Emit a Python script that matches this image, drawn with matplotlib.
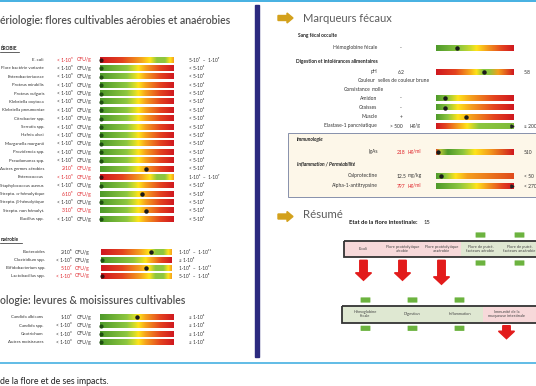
import numpy as np
import matplotlib
matplotlib.use("Agg")
import matplotlib.pyplot as plt
import matplotlib.patches as mpatches
from matplotlib.colors import LinearSegmentedColormap

plt.rcParams['font.family'] = ['Lato', 'DejaVu Sans']

# ---------------- donnees : bacteriologie aerobie ----------------
aero_names = ["E. coli", "Flore bactérie variante", "Enterobacteriaceae", "Proteus mirabilis",
              "Proteus vulgaris", "Klebsiella oxytoca", "Klebsiella pneumoniae", "Citrobacter spp.",
              "Serratia spp.", "Hafnia alvei", "Morganella morganii", "Providencia spp.",
              "Pseudomonas spp.", "Autres germes aérobies", "Enterococcus", "Staphylococcus aureus",
              "Strepto. α-hémolytique", "Strepto. β-hémolytique",
              "Strepto. non hémolyt.", "Bacillus spp."]
aero_values = ["< 1·10⁵"] * 13 + ["2·10⁵", "< 1·10⁵", "< 1·10⁵", "6·10⁵", "< 1·10⁵", "3·10⁵", "< 1·10⁵"]
aero_red = [1] + [0] * 12 + [1, 1, 0, 1, 0, 1, 0]
aero_pos = [0.0] * 13 + [0.62, 0.0, 0.0, 0.57, 0.0, 0.62, 0.0]
aero_kind = ["bi"] + ["std"] * 13 + ["bi"] + ["std"] * 5
aero_refs = ["5·10⁷  –  1·10⁹"] + ["< 5·10⁴"] * 13 + ["1·10⁶  –  1·10⁷"] + ["< 5·10⁴"] * 5

# ---------------- anaerobie ----------------
ana_names = ["Bacteroides", "Clostridium spp.", "Bifidobacterium spp.", "Lactobacillus spp."]
ana_values = ["2·10⁸", "< 1·10⁵", "5·10⁷", "< 1·10⁵"]
ana_red = [0, 0, 1, 1]
ana_pos = [0.70, 0.0, 0.63, 0.0]
ana_kind = ["bi", "std2", "bi", "bi"]
ana_refs = ["1·10⁹  –  1·10¹¹", "≤ 1·10⁵", "1·10⁸  –  1·10¹¹", "5·10⁶  –  1·10⁸"]

# ---------------- mycologie ----------------
myc_names = ["Candida albicans", "Candida spp.", "Geotrichum", "Autres moisissures"]
myc_values = ["1·10⁴", "< 1·10³", "< 1·10³", "< 1·10³"]
myc_pos = [0.5, 0.0, 0.0, 0.0]
myc_refs = ["≤ 1·10⁴", "≤ 1·10³", "≤ 1·10³", "≤ 1·10³"]

# ---------------- marqueurs fecaux ----------------
fec_names = ["Hémoglobine fécale", "pH", "Amidon", "Graisses", "Muscle", "Elastase-1 pancréatique"]
fec_values = ["-", "6.2", "-", "-", "+", "> 500"]
fec_units = ["", "", "", "", "", "µg/g"]
fec_pos = [0.27, 0.62, 0.12, 0.12, 0.38, 0.99]
fec_kind = ["hb", "ph", "low", "low", "low", "ela"]
fec_refs = ["", "5.8", "", "", "", "≥ 200"]

imm_names = ["IgAs", "Calprotectine", "Alpha-1-antitrypsine"]
imm_values = ["218", "12.5", "797"]
imm_units = ["µg/ml", "mg/kg", "µg/ml"]
imm_red = [1, 0, 1]
imm_pos = [0.02, 0.06, 0.99]
imm_kind = ["iga", "calp", "hb"]
imm_refs = ["510", "< 50", "< 270"]

# ---------------- resume ----------------
flore_score = 15
top_cells = ["E.coli", "Flore protéolytique\naérobie", "Flore protéolytique\nanaérobie",
             "Flore de putré.\nfacteurs aérobie", "Flore de putré.\nfacteurs anaérobie"]
top_ok = [0, 0, 0, 1, 1]
bot_cells = ["Hémoglobine\nfécale", "Digestion", "Inflammation", "Immunité de la\nmuqueuse intestinale"]
bot_ok = [1, 1, 1, 0]

# ---------------- palettes ----------------
G, LG, Y, O, R, DR = '#4e9a2b', '#8dc63f', '#ffe41a', '#f5a01d', '#e4431f', '#cf1820'
stops = {
    "std": [(0, G), (0.36, LG), (0.46, '#cfdb2c'), (0.52, Y), (0.62, O), (0.82, R), (1, DR)],
    "std2": [(0, G), (0.45, LG), (0.57, '#cfdb2c'), (0.63, Y), (0.72, O), (0.86, R), (1, DR)],
    "bi": [(0, DR), (0.3, R), (0.55, O), (0.68, Y), (0.77, LG), (0.88, LG), (0.95, Y), (1, O)],
    "hb": [(0, G), (0.3, LG), (0.45, '#cfdb2c'), (0.52, Y), (0.65, O), (0.85, R), (1, DR)],
    "ph": [(0, DR), (0.25, R), (0.42, O), (0.52, Y), (0.6, LG), (0.68, LG), (0.8, O), (1, DR)],
    "low": [(0, G), (0.15, LG), (0.28, Y), (0.45, O), (0.75, R), (1, DR)],
    "ela": [(0, DR), (0.12, R), (0.28, O), (0.4, Y), (0.55, LG), (1, '#7dbb3a')],
    "iga": [(0, R), (0.05, '#b8c83a'), (0.15, G), (0.35, LG), (0.5, Y), (0.68, O), (1, DR)],
    "calp": [(0, G), (0.12, LG), (0.25, Y), (0.4, O), (1, '#e04a1c')],
}
cmaps = {k: LinearSegmentedColormap.from_list(k, v) for k, v in stops.items()}
grad = np.linspace(0, 1, 256)[None, :]


def bar(ax, x0, x1, yc, kind, pos, h=5.2):
    ax.imshow(grad, cmap=cmaps[kind], extent=(x0, x1, yc + h / 2, yc - h / 2),
              aspect='auto', interpolation='bilinear', zorder=2)
    xm = x0 + pos * (x1 - x0)
    if pos <= 0.01 and kind in ("std", "std2", "low"):
        ax.plot(xm + 1.2, yc, 'o', ms=2.0, color='#1f4f12', zorder=3)
    elif pos >= 0.98:
        ax.plot(xm - 1, yc, '>', ms=2.2, color='#222222', zorder=3)
    elif pos > 0.01:
        ax.plot(xm, yc, 'o', ms=2.2, color='#1a1a1a', zorder=3)
    else:
        ax.plot(xm + 1.2, yc, 'o', ms=2.0, color='#3a1010', zorder=3)


fig = plt.figure(figsize=(5.36, 3.86), dpi=100)
ax = fig.add_axes([0, 0, 1, 1])
ax.set_xlim(0, 536)
ax.set_ylim(386, 0)
ax.axis('off')

TXT = '#333333'
RED = '#e0252b'
fs = 3.2

# cadres
ax.plot([0, 536], [1.3, 1.3], color='#45b0e2', lw=1.4)
ax.plot([0, 536], [362.5, 362.5], color='#45b0e2', lw=1.2)
ax.add_patch(mpatches.Rectangle((255, 5), 4, 352, color='#2c2a7f', zorder=1))

# ---- panneau gauche ----
ax.text(0.5, 20, "ériologie: flores cultivables aérobies et anaérobies", fontsize=7.6,
        color='#505050', weight='semibold', va='center')
ax.text(0.5, 48.5, "ÉROBIE", fontsize=3.4, weight='bold', color='#222222', va='center')
ax.plot([0, 19], [51.5, 51.5], color='#222222', lw=0.5)

y0, dy = 60, 8.38
for i, name in enumerate(aero_names):
    y = y0 + i * dy
    col = RED if aero_red[i] else TXT
    ax.text(44, y, name, fontsize=fs, ha='right', va='center', color=TXT)
    ax.text(73, y, aero_values[i], fontsize=fs + 0.4, ha='right', va='center', color=col)
    ax.text(77, y, "CFU/g", fontsize=fs + 0.4, ha='left', va='center', color=col)
    bar(ax, 100, 174, y, aero_kind[i], aero_pos[i])
    ax.text(189, y, aero_refs[i], fontsize=fs + 0.2, ha='left', va='center', color=TXT)

ax.text(0.5, 239.5, "naérobie", fontsize=3.4, weight='bold', color='#222222', va='center')
ax.plot([0, 22], [242.5, 242.5], color='#222222', lw=0.5)
y1 = 252.3
for i, name in enumerate(ana_names):
    y = y1 + i * 7.9
    col = RED if ana_red[i] else TXT
    ax.text(45, y, name, fontsize=fs, ha='right', va='center', color=TXT)
    ax.text(72, y, ana_values[i], fontsize=fs + 0.4, ha='right', va='center', color=col)
    ax.text(75, y, "CFU/g", fontsize=fs + 0.4, ha='left', va='center', color=col)
    bar(ax, 101, 172, y, ana_kind[i], ana_pos[i])
    ax.text(179, y, ana_refs[i], fontsize=fs + 0.2, ha='left', va='center', color=TXT)

ax.text(0.5, 300, "ologie: levures & moisissures cultivables", fontsize=7.6,
        color='#505050', weight='semibold', va='center')
y2 = 317.3
for i, name in enumerate(myc_names):
    y = y2 + i * 8.35
    ax.text(43, y, name, fontsize=fs, ha='right', va='center', color=TXT)
    ax.text(72, y, myc_values[i], fontsize=fs + 0.4, ha='right', va='center', color=TXT)
    ax.text(77, y, "CFU/g", fontsize=fs + 0.4, ha='left', va='center', color=TXT)
    bar(ax, 100, 174, y, "std", myc_pos[i])
    ax.text(189, y, myc_refs[i], fontsize=fs + 0.2, ha='left', va='center', color=TXT)

ax.text(0.5, 381, "de la flore et de ses impacts.", fontsize=6.3, color='#222222', va='center')

# ---- panneau droit ----
gold = '#d3a11c'
for ya in (18, 216.5):
    ax.add_patch(mpatches.FancyArrow(278, ya, 9, 0, width=5, head_width=10, head_length=6,
                                     length_includes_head=False, color=gold, zorder=3))
ax.text(303, 18.5, "Marqueurs fécaux", fontsize=8.0, color='#5c5c5c', va='center')
ax.text(298, 36, "Sang fécal occulte", fontsize=3.5, weight='bold', color='#222222', va='center')
ax.text(296, 61, "Digestion et intolérances alimentaires", fontsize=3.5, weight='bold',
        color='#222222', va='center')

fec_y = [48, 72, 98, 107.7, 117, 126]
for i, name in enumerate(fec_names):
    y = fec_y[i]
    ax.text(377, y, name, fontsize=3.6, ha='right', va='center', color=TXT)
    sign = fec_values[i] in ("-", "+")
    ax.text(401 if sign else (390 if fec_units[i] else 398), y, fec_values[i], fontsize=3.6,
            ha='center' if sign else 'left', va='center', color=TXT)
    if fec_units[i]:
        ax.text(410, y, fec_units[i], fontsize=3.6, ha='left', va='center', color=TXT)
    bar(ax, 436, 514, y, fec_kind[i], fec_pos[i], h=5.6)
    if fec_refs[i]:
        ax.text(524, y, fec_refs[i], fontsize=3.6, ha='left', va='center', color=TXT)
ax.text(376, 81, "Couleur", fontsize=3.6, ha='right', va='center', color=TXT)
ax.text(378, 81, "selles de couleur brune", fontsize=3.6, ha='left', va='center', color=TXT)
ax.text(370, 89.5, "Consistance", fontsize=3.6, ha='right', va='center', color=TXT)
ax.text(372, 89.5, "molle", fontsize=3.6, ha='left', va='center', color=TXT)

ax.add_patch(mpatches.Rectangle((288, 133), 270, 64, fc='#fdf7e9', ec='#8790ab', lw=0.7, zorder=1))
ax.text(297, 139.5, "Immunologie", fontsize=3.5, weight='bold', style='italic', color='#222222', va='center')
ax.text(297, 163.5, "Inflammation / Perméabilité", fontsize=3.5, weight='bold', style='italic',
        color='#222222', va='center')
imm_y = [152, 176, 186]
for i, name in enumerate(imm_names):
    y = imm_y[i]
    col = RED if imm_red[i] else TXT
    ax.text(378, y, name, fontsize=3.6, ha='right', va='center', color=TXT)
    ax.text(397, y, imm_values[i], fontsize=3.6, ha='left', va='center', color=col)
    ax.text(408, y, imm_units[i], fontsize=3.6, ha='left', va='center', color=col)
    bar(ax, 436, 514, y, imm_kind[i], imm_pos[i], h=5.6)
    ax.text(524, y, imm_refs[i], fontsize=3.6, ha='left', va='center', color=TXT)

# ---- resume ----
ax.text(303, 215, "Résumé", fontsize=8.2, color='#5c5c5c', va='center')
ax.text(349, 222, "Etat de la flore intestinale:", fontsize=4.2, weight='bold', color='#222222', va='center')
ax.text(424, 222, str(flore_score), fontsize=4.2, color='#222222', va='center')

PINK, PGREEN = '#f7d9da', '#dfe8d2'
ARW, GM = '#e21b1b', '#6cb33f'


def summary_row(cells, ok, x0, w, ytop, h, mark_up, mark_dn, arrow_len):
    ax.add_patch(mpatches.Rectangle((x0, ytop), w * len(cells) + 20, h, fc='none', ec='#333333',
                                    lw=1.3, zorder=4))
    for j, lab in enumerate(cells):
        xs = x0 + j * w
        fc = PGREEN if ok[j] else PINK
        last_w = w + 20 if j == len(cells) - 1 else w
        ax.add_patch(mpatches.Rectangle((xs, ytop), last_w, h, fc=fc, ec='none', zorder=2))
        xc = xs + w / 2
        ax.text(xc, ytop + h / 2, lab, fontsize=2.9, ha='center', va='center', color='#444444',
                linespacing=1.0, zorder=5)
        if ok[j]:
            for ym in (mark_up, mark_dn):
                ax.add_patch(mpatches.FancyBboxPatch((xc - 4.5, ym - 2.2), 9, 4.4,
                                                     boxstyle='round,pad=0.4', fc=GM, ec='none', zorder=3))
        else:
            ax.add_patch(mpatches.FancyArrow(xc, ytop + h + 3, 0, arrow_len[j], width=7.5,
                                             head_width=16, head_length=7.5, length_includes_head=True,
                                             color=ARW, zorder=3))


summary_row(top_cells, top_ok, 344, 39, 240.7, 16.6, 235, 263, [20, 20, 24, 0, 0])
summary_row(bot_cells, bot_ok, 342, 47, 306, 16.7, 300, 328.3, [0, 0, 0, 13])

fig.savefig("out.png", dpi=100)
